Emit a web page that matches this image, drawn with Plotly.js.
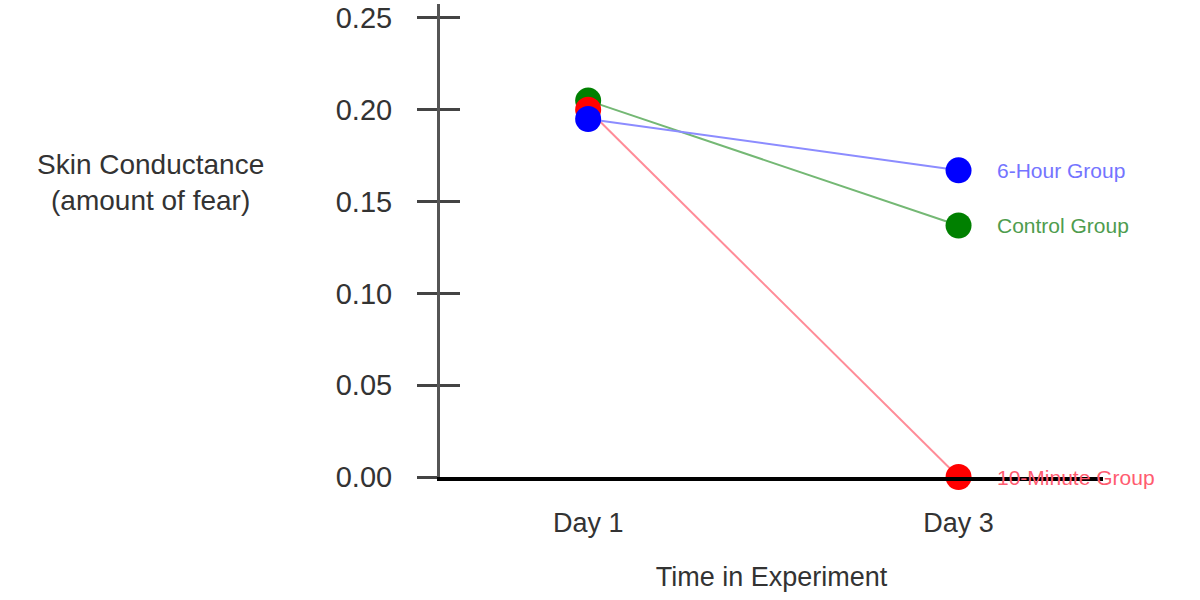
<!DOCTYPE html>
<html>
<head>
<meta charset="utf-8">
<script src="https://cdn.plot.ly/plotly-3.0.1.min.js"></script>
<style>html,body{margin:0;padding:0;background:#fff;}#chart{width:1200px;height:600px;}</style>
</head>
<body>
<div id="chart"></div>
<script>
const days = ['Day 1', 'Day 3'];
const controlGroup = [0.205, 0.137];
const tenMinuteGroup = [0.200, 0.000];
const sixHourGroup = [0.195, 0.167];
const groupNames = ['Control Group', '10-Minute Group', '6-Hour Group'];
const yTickVals = [0, 0.05, 0.10, 0.15, 0.20, 0.25];
const yTickText = ['0.00', '0.05', '0.10', '0.15', '0.20', '0.25'];

const FONT = 'Liberation Sans, Arial, Helvetica, sans-serif';
const series = [controlGroup, tenMinuteGroup, sixHourGroup];
const markerColors = ['#008000', '#ff0000', '#0000ff'];
const lineColors = ['#74b874', '#ff8c98', '#8c8cff'];
const labelColors = ['#4e9c4e', '#ff5c70', '#7474ff'];

const traces = series.map((vals, i) => ({
  x: days,
  y: vals,
  type: 'scatter',
  mode: 'lines+markers',
  name: groupNames[i],
  cliponaxis: false,
  line: {color: lineColors[i], width: 2},
  marker: {color: markerColors[i], size: 26},
  hoverinfo: 'skip'
}));
// helper invisible trace on yaxis2 to carry inside ticks
traces.push({x: days, y: [null, null], type: 'scatter', mode: 'markers', yaxis: 'y2', showlegend: false, hoverinfo: 'skip'});

const annotations = series.map((vals, i) => ({
  x: 1, y: vals[1], xref: 'x', yref: 'y',
  text: groupNames[i], showarrow: false, xanchor: 'left', yanchor: 'middle', xshift: 36,
  font: {family: FONT, size: 21, color: labelColors[i]}
}));
annotations.push({
  xref: 'paper', yref: 'paper', x: -0.436, y: 0.623,
  text: 'Skin Conductance<br>(amount of fear)', showarrow: false,
  xanchor: 'center', yanchor: 'middle', align: 'center',
  font: {family: FONT, size: 28, color: '#333'}
});

const yRange = [0, 0.2576];
const layout = {
  width: 1200, height: 600,
  margin: {l: 440, r: 97, t: 4, b: 123},
  paper_bgcolor: '#fff', plot_bgcolor: '#fff',
  showlegend: false,
  font: {family: FONT, color: '#333'},
  xaxis: {
    type: 'category', range: [-0.4, 1.39],
    showline: true, linecolor: '#000', linewidth: 4,
    showgrid: false, zeroline: false, ticks: '',
    tickfont: {family: FONT, size: 27, color: '#333'},
    ticklabelstandoff: 19,
    title: {text: 'Time in Experiment', font: {family: FONT, size: 27, color: '#333'}, standoff: 31}
  },
  yaxis: {
    range: yRange, showgrid: false, zeroline: false,
    showline: true, linecolor: '#555', linewidth: 3,
    tickmode: 'array', tickvals: yTickVals, ticktext: yTickText,
    ticks: 'outside', ticklen: 20, tickwidth: 3, tickcolor: '#444',
    ticklabelstandoff: 19, ticklabeloverflow: 'allow',
    tickfont: {family: FONT, size: 29, color: '#333'}
  },
  yaxis2: {
    overlaying: 'y', side: 'left', range: yRange,
    showgrid: false, zeroline: false, showline: false,
    tickmode: 'array', tickvals: yTickVals,
    ticks: 'inside', ticklen: 20, tickwidth: 3, tickcolor: '#444',
    showticklabels: false
  },
  annotations: annotations
};

Plotly.newPlot('chart', traces, layout, {displayModeBar: false, staticPlot: true});
</script>
</body>
</html>
